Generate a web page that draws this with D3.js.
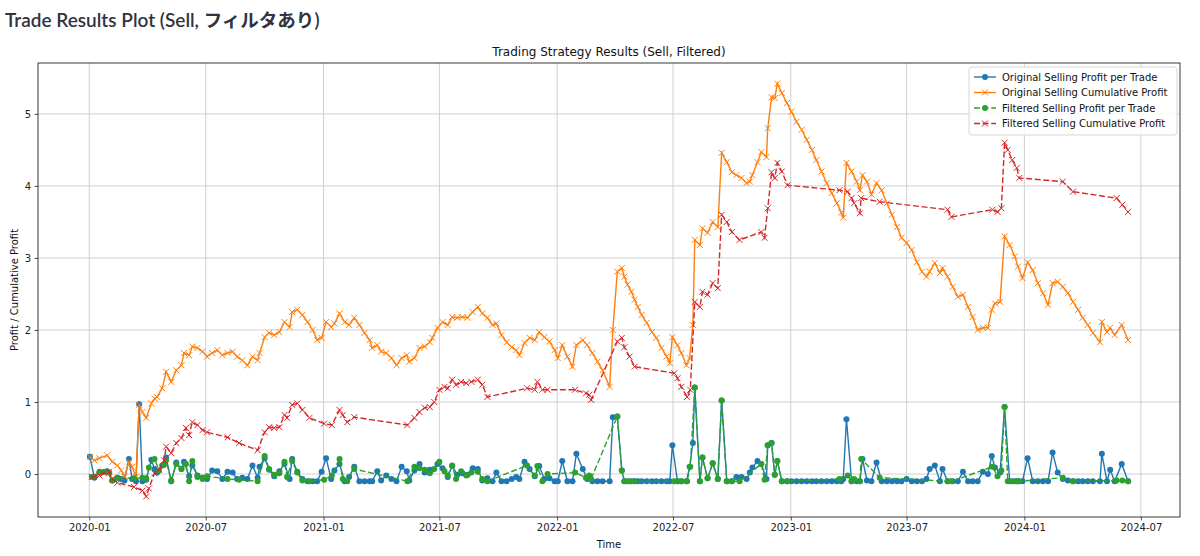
<!DOCTYPE html>
<html>
<head>
<meta charset="utf-8">
<script src="https://cdn.jsdelivr.net/npm/d3@7"></script>
<style>
body{margin:0;background:#fff;}
svg text{font-family:"DejaVu Sans",sans-serif;}
</style>
</head>
<body>
<svg id="chart"></svg>
<script>
// original trades (per-trade profit and running total, one row per trade)
var origDates = [
  "2020-01-02","2020-01-09","2020-01-17","2020-01-29","2020-02-06","2020-02-14","2020-02-20","2020-02-25","2020-03-03","2020-03-08",
  "2020-03-14","2020-03-19","2020-03-24","2020-03-30","2020-04-07","2020-04-12","2020-04-16","2020-04-24","2020-04-30","2020-05-08",
  "2020-05-16","2020-05-24","2020-05-28","2020-06-05","2020-06-10","2020-06-18","2020-06-26","2020-07-03","2020-07-11","2020-07-19",
  "2020-07-27","2020-08-04","2020-08-12","2020-08-19","2020-08-27","2020-09-04","2020-09-12","2020-09-20","2020-09-23","2020-10-01",
  "2020-10-08","2020-10-16","2020-10-24","2020-11-01","2020-11-09","2020-11-13","2020-11-21","2020-11-29","2020-12-07","2020-12-15",
  "2020-12-22","2020-12-29","2021-01-05","2021-01-13","2021-01-18","2021-01-26","2021-02-03","2021-02-10","2021-02-18","2021-02-26",
  "2021-03-06","2021-03-14","2021-03-18","2021-03-26","2021-04-01","2021-04-09","2021-04-17","2021-04-25","2021-05-03","2021-05-11",
  "2021-05-15","2021-05-23","2021-05-31","2021-06-08","2021-06-16","2021-06-20","2021-06-28","2021-07-06","2021-07-14","2021-07-21",
  "2021-07-29","2021-08-06","2021-08-14","2021-08-22","2021-08-30","2021-09-06","2021-09-14","2021-09-22","2021-09-28","2021-10-06",
  "2021-10-14","2021-10-22","2021-10-29","2021-11-03","2021-11-11","2021-11-19","2021-11-27","2021-12-04","2021-12-12","2021-12-20",
  "2021-12-28","2022-01-02","2022-01-09","2022-01-17","2022-01-25","2022-01-31","2022-02-10","2022-02-17","2022-02-25","2022-03-05",
  "2022-03-13","2022-03-24","2022-03-29","2022-04-05","2022-04-12","2022-04-16","2022-04-21","2022-04-27","2022-05-02","2022-05-07",
  "2022-05-13","2022-05-21","2022-05-29","2022-06-05","2022-06-13","2022-06-21","2022-06-26","2022-06-30","2022-07-08","2022-07-14",
  "2022-07-22","2022-07-27","2022-08-01","2022-08-04","2022-08-12","2022-08-16","2022-08-24","2022-09-01","2022-09-09","2022-09-15",
  "2022-09-23","2022-10-01","2022-10-08","2022-10-16","2022-10-24","2022-10-29","2022-11-02","2022-11-10","2022-11-16","2022-11-24",
  "2022-11-26","2022-12-02","2022-12-07","2022-12-11","2022-12-18","2022-12-26","2023-01-02","2023-01-10","2023-01-18","2023-01-26",
  "2023-02-03","2023-02-10","2023-02-18","2023-02-26","2023-03-06","2023-03-14","2023-03-21","2023-03-24","2023-03-29","2023-04-06",
  "2023-04-14","2023-04-19","2023-04-23","2023-04-30","2023-05-07","2023-05-15","2023-05-23","2023-05-31","2023-06-08","2023-06-16",
  "2023-06-23","2023-07-01","2023-07-09","2023-07-17","2023-07-25","2023-08-01","2023-08-06","2023-08-14","2023-08-22","2023-08-26",
  "2023-09-03","2023-09-11","2023-09-19","2023-09-27","2023-10-05","2023-10-12","2023-10-20","2023-10-28","2023-11-05","2023-11-11",
  "2023-11-16","2023-11-24","2023-12-01","2023-12-09","2023-12-17","2023-12-22","2023-12-29","2024-01-06","2024-01-14","2024-01-22",
  "2024-01-30","2024-02-07","2024-02-14","2024-02-22","2024-03-01","2024-03-09","2024-03-17","2024-03-25","2024-04-01","2024-04-09",
  "2024-04-17","2024-04-28","2024-05-01","2024-05-09","2024-05-14","2024-05-21","2024-06-01","2024-06-11"
];
var origProfit = [
  0.24,-0.05,0.03,0.04,-0.09,-0.05,-0.07,-0.09,0.21,-0.07,
  -0.10,0.97,-0.10,-0.08,0.20,0.07,0.02,0.12,0.23,-0.10,
  0.16,0.07,0.17,-0.03,0.12,-0.02,-0.05,-0.07,0.05,0.04,
  -0.07,0.03,0.02,-0.07,-0.05,-0.07,0.12,-0.05,0.10,0.22,
  0.06,-0.03,0.04,0.14,-0.07,0.21,0.03,-0.07,-0.10,-0.10,
  -0.10,0.03,0.22,-0.07,0.05,0.14,-0.10,-0.04,0.10,-0.10,
  -0.10,-0.10,-0.10,0.04,-0.09,-0.02,-0.07,-0.10,0.10,0.04,
  -0.09,0.05,0.14,0.02,0.06,0.06,0.14,0.08,-0.04,0.11,
  -0.01,0.01,-0.01,0.08,0.07,-0.09,-0.06,-0.10,0.02,-0.10,
  -0.10,-0.07,-0.04,-0.07,0.17,0.07,-0.03,0.11,-0.07,-0.06,
  -0.10,-0.10,0.18,-0.10,-0.10,0.28,0.07,-0.07,-0.10,-0.10,
  -0.10,-0.10,0.79,0.80,0.05,-0.10,-0.10,-0.10,-0.10,-0.10,
  -0.10,-0.10,-0.10,-0.10,-0.10,-0.10,-0.10,0.40,-0.10,-0.10,
  -0.10,0.10,0.43,1.20,-0.10,0.23,-0.06,0.15,-0.07,1.02,
  -0.10,-0.10,-0.04,-0.04,-0.07,0.02,0.09,0.18,0.14,-0.07,
  0.40,0.43,-0.01,0.18,-0.10,-0.10,-0.10,-0.10,-0.10,-0.10,
  -0.10,-0.10,-0.10,-0.10,-0.10,-0.10,-0.10,-0.07,0.76,-0.10,
  -0.10,-0.10,0.21,-0.09,-0.10,0.16,-0.10,-0.10,-0.10,-0.10,
  -0.10,-0.07,-0.10,-0.10,-0.10,-0.07,0.07,0.12,-0.10,0.07,
  -0.10,-0.10,-0.10,0.03,-0.10,-0.10,-0.10,0.03,0.00,0.25,
  0.09,0.02,0.93,-0.10,-0.10,-0.10,-0.10,0.22,-0.10,-0.10,
  -0.10,-0.10,0.30,0.02,-0.07,-0.09,-0.10,-0.10,-0.10,-0.10,
  -0.10,-0.10,0.28,-0.10,0.06,-0.10,0.14,-0.10
];
var origCum = [
  0.24,0.19,0.22,0.26,0.17,0.12,0.05,-0.04,0.17,0.10,
  -0.04,0.96,0.86,0.78,0.98,1.05,1.07,1.19,1.42,1.28,
  1.44,1.51,1.68,1.65,1.77,1.75,1.70,1.63,1.68,1.72,
  1.65,1.68,1.70,1.63,1.58,1.51,1.63,1.58,1.68,1.90,
  1.96,1.93,1.97,2.11,2.04,2.25,2.28,2.21,2.11,2.00,
  1.86,1.89,2.11,2.04,2.09,2.23,2.11,2.07,2.17,2.07,
  1.96,1.86,1.75,1.79,1.70,1.68,1.61,1.51,1.61,1.65,
  1.56,1.61,1.75,1.77,1.83,1.89,2.03,2.11,2.07,2.18,
  2.17,2.18,2.17,2.25,2.32,2.23,2.17,2.07,2.09,1.93,
  1.83,1.76,1.72,1.65,1.82,1.89,1.86,1.97,1.90,1.84,
  1.72,1.61,1.79,1.63,1.49,1.79,1.86,1.79,1.68,1.56,
  1.44,1.21,2.00,2.81,2.86,2.74,2.63,2.53,2.42,2.32,
  2.21,2.10,1.97,1.89,1.75,1.63,1.54,1.90,1.79,1.68,
  1.51,1.61,2.07,3.25,3.18,3.41,3.35,3.50,3.43,4.46,
  4.33,4.19,4.15,4.11,4.04,4.06,4.15,4.33,4.47,4.40,
  4.80,5.23,5.22,5.42,5.29,5.15,5.03,4.89,4.78,4.64,
  4.50,4.36,4.20,4.04,3.90,3.76,3.63,3.56,4.32,4.20,
  4.06,3.94,4.15,4.06,3.88,4.04,3.94,3.76,3.60,3.43,
  3.28,3.21,3.11,2.94,2.81,2.74,2.81,2.93,2.79,2.86,
  2.74,2.60,2.46,2.49,2.32,2.18,2.00,2.03,2.03,2.28,
  2.37,2.39,3.30,3.18,3.02,2.88,2.72,2.94,2.83,2.65,
  2.51,2.35,2.65,2.67,2.60,2.51,2.39,2.28,2.17,2.07,
  1.96,1.83,2.11,1.97,2.03,1.93,2.07,1.86
];

// filtered trades
var filtDates = [
  "2020-01-05","2020-01-17","2020-01-24","2020-02-01","2020-02-06","2020-02-14","2020-03-11","2020-03-24","2020-03-30","2020-04-03",
  "2020-04-12","2020-04-19","2020-04-27","2020-04-30","2020-05-08","2020-05-16","2020-05-24","2020-05-31","2020-06-05","2020-06-10",
  "2020-06-18","2020-06-26","2020-07-03","2020-08-04","2020-08-22","2020-09-20","2020-10-01","2020-10-08","2020-10-16","2020-10-24",
  "2020-11-01","2020-11-05","2020-11-13","2020-11-21","2020-11-29","2020-12-10","2021-01-02","2021-01-14","2021-01-26","2021-01-31",
  "2021-02-07","2021-02-18","2021-05-12","2021-05-23","2021-05-31","2021-06-08","2021-06-16","2021-06-23","2021-07-01","2021-07-09",
  "2021-07-14","2021-07-21","2021-07-27","2021-08-04","2021-08-12","2021-08-20","2021-08-30","2021-09-06","2021-09-14","2021-11-15",
  "2021-11-27","2021-12-01","2021-12-09","2021-12-17","2022-01-29","2022-02-15","2022-02-20","2022-02-23","2022-04-05","2022-04-12",
  "2022-04-16","2022-04-24","2022-05-02","2022-07-03","2022-07-08","2022-07-14","2022-07-23","2022-07-28","2022-08-04","2022-08-12",
  "2022-08-16","2022-08-24","2022-09-01","2022-09-09","2022-09-15","2022-09-23","2022-10-01","2022-10-13","2022-11-16","2022-11-21",
  "2022-11-26","2022-12-02","2022-12-07","2022-12-11","2022-12-18","2022-12-27","2023-03-18","2023-03-31","2023-04-06","2023-04-10",
  "2023-04-19","2023-04-21","2023-05-20","2023-09-03","2023-09-09","2023-11-12","2023-11-20","2023-11-26","2023-12-01","2023-12-06",
  "2023-12-13","2023-12-20","2023-12-24","2024-03-01","2024-03-17","2024-05-24","2024-06-02","2024-06-11"
];
var filtProfit = [
  -0.04,0.02,0.03,0.02,-0.09,-0.05,-0.06,-0.05,-0.06,0.09,
  0.21,0.05,0.13,0.19,-0.09,0.14,0.07,0.14,-0.10,0.18,
  -0.04,-0.07,-0.03,-0.07,-0.08,-0.10,0.25,0.07,-0.01,0.01,
  0.17,-0.04,0.18,0.02,-0.09,-0.10,-0.08,-0.02,0.21,-0.07,
  -0.10,0.07,-0.10,0.10,0.08,0.06,0.01,0.07,0.17,0.04,
  -0.02,0.12,-0.07,0.04,-0.02,0.02,0.03,-0.07,-0.10,0.12,
  -0.02,0.11,-0.10,0.00,0.02,-0.05,-0.02,-0.07,0.80,0.05,
  -0.10,-0.10,-0.10,-0.10,-0.10,-0.10,-0.10,0.10,1.20,-0.10,
  0.23,-0.06,0.15,-0.07,1.02,-0.10,-0.10,-0.10,0.14,-0.08,
  0.40,0.43,-0.01,0.18,-0.10,-0.10,-0.07,-0.02,-0.10,-0.07,
  -0.10,0.21,-0.05,-0.10,-0.10,0.10,-0.03,0.05,0.93,-0.10,
  -0.10,-0.10,-0.10,-0.05,-0.10,-0.09,-0.09,-0.10
];
var filtCum = [
  -0.04,-0.02,0.01,0.03,-0.07,-0.12,-0.18,-0.23,-0.31,-0.20,
  0.01,0.06,0.19,0.38,0.29,0.43,0.50,0.64,0.54,0.72,
  0.68,0.61,0.58,0.51,0.43,0.33,0.58,0.65,0.64,0.65,
  0.82,0.78,0.96,0.98,0.89,0.78,0.70,0.68,0.89,0.82,
  0.72,0.79,0.68,0.78,0.86,0.92,0.93,1.00,1.17,1.21,
  1.19,1.31,1.24,1.28,1.26,1.28,1.31,1.24,1.07,1.19,
  1.17,1.28,1.17,1.17,1.17,1.12,1.10,1.03,1.84,1.89,
  1.76,1.63,1.49,1.40,1.33,1.21,1.07,1.17,2.39,2.32,
  2.53,2.49,2.65,2.58,3.60,3.50,3.36,3.25,3.36,3.28,
  3.69,4.19,4.11,4.32,4.20,4.01,3.94,3.92,3.83,3.76,
  3.62,3.83,3.78,3.67,3.57,3.67,3.64,3.69,4.60,4.50,
  4.36,4.25,4.11,4.06,3.92,3.83,3.74,3.64
];

var seriesNames = [
  "Original Selling Profit per Trade",
  "Original Selling Cumulative Profit",
  "Filtered Selling Profit per Trade",
  "Filtered Selling Cumulative Profit"
];
var yTickValues = [0, 1, 2, 3, 4, 5];

var W = 1200, H = 556;
var plot = {left: 38, right: 1180, top: 63, bottom: 517};
var parseDate = d3.utcParse("%Y-%m-%d");

function zipSeries(dates, values){
  return dates.map(function(d, i){ return {date: parseDate(d), value: values[i]}; });
}

var series = [
  {name: seriesNames[0], data: zipSeries(origDates, origProfit), color: "#1f77b4", marker: "o", dash: null},
  {name: seriesNames[1], data: zipSeries(origDates, origCum), color: "#ff7f0e", marker: "x", dash: null},
  {name: seriesNames[2], data: zipSeries(filtDates, filtProfit), color: "#2ca02c", marker: "o", dash: "6,2.6"},
  {name: seriesNames[3], data: zipSeries(filtDates, filtCum), color: "#d62728", marker: "x", dash: "6,2.6"}
];

var svg = d3.select("#chart").attr("width", W).attr("height", H);

// page header (streamlit-like)
var header = svg.append("text")
  .attr("x", 5).attr("y", 27)
  .style("fill", "#31333F")
  .style("font-weight", "600");
header.append("tspan").style("font-family", "Lato, 'Noto Sans', sans-serif").style("font-size", "19px")
  .text("Trade Results Plot (Sell, ");
header.append("tspan").style("font-family", "'Noto Sans CJK JP', sans-serif").style("font-size", "18.5px")
  .text("フィルタあり");
header.append("tspan").style("font-family", "Lato, 'Noto Sans', sans-serif").style("font-size", "19px")
  .text(")");

// scales with matplotlib-like 5% margins
var allDates = series[0].data.concat(series[2].data).map(function(d){ return d.date; });
var allVals = origProfit.concat(origCum, filtProfit, filtCum);
var xExt = d3.extent(allDates), xPad = (xExt[1] - xExt[0]) * 0.05;
var yExt = d3.extent(allVals), yPad = (yExt[1] - yExt[0]) * 0.05;

var x = d3.scaleUtc()
  .domain([new Date(+xExt[0] - xPad), new Date(+xExt[1] + xPad)])
  .range([plot.left, plot.right]);
var y = d3.scaleLinear()
  .domain([yExt[0] - yPad, yExt[1] + yPad])
  .range([plot.bottom, plot.top]);

var xTicks = x.ticks(d3.utcMonth.every(6));

// grid
var grid = svg.append("g").attr("class", "grid");
grid.selectAll("line.gx").data(xTicks).enter().append("line")
  .attr("x1", function(d){ return x(d); }).attr("x2", function(d){ return x(d); })
  .attr("y1", plot.top).attr("y2", plot.bottom)
  .attr("stroke", "#d0d0d0").attr("stroke-width", 1);
grid.selectAll("line.gy").data(yTickValues).enter().append("line")
  .attr("x1", plot.left).attr("x2", plot.right)
  .attr("y1", function(d){ return y(d); }).attr("y2", function(d){ return y(d); })
  .attr("stroke", "#d0d0d0").attr("stroke-width", 1);

// series
var clip = svg.append("clipPath").attr("id", "plotclip").append("rect")
  .attr("x", plot.left).attr("y", plot.top)
  .attr("width", plot.right - plot.left).attr("height", plot.bottom - plot.top);

var lineGen = d3.line().x(function(d){ return x(d.date); }).y(function(d){ return y(d.value); });
var xPath = "M-3,-3L3,3M-3,3L3,-3";

var plotG = svg.append("g").attr("clip-path", "url(#plotclip)");
series.forEach(function(s){
  var g = plotG.append("g");
  g.append("path").datum(s.data)
    .attr("d", lineGen)
    .attr("fill", "none")
    .attr("stroke", s.color)
    .attr("stroke-width", 1.4)
    .attr("stroke-dasharray", s.dash);
  if (s.marker === "o") {
    g.selectAll("circle").data(s.data).enter().append("circle")
      .attr("cx", function(d){ return x(d.date); })
      .attr("cy", function(d){ return y(d.value); })
      .attr("r", 3).attr("fill", s.color);
  } else {
    g.selectAll("path.mk").data(s.data).enter().append("path")
      .attr("class", "mk")
      .attr("d", xPath)
      .attr("transform", function(d){ return "translate(" + x(d.date) + "," + y(d.value) + ")"; })
      .attr("stroke", s.color).attr("stroke-width", 1).attr("fill", "none");
  }
});

// axes
var xAxis = svg.append("g")
  .attr("transform", "translate(0," + plot.bottom + ")")
  .call(d3.axisBottom(x).tickValues(xTicks).tickFormat(d3.utcFormat("%Y-%m")).tickSize(3.5).tickPadding(3.5).tickSizeOuter(0));
var yAxis = svg.append("g")
  .attr("transform", "translate(" + plot.left + ",0)")
  .call(d3.axisLeft(y).tickValues(yTickValues).tickFormat(d3.format("d")).tickSize(3.5).tickPadding(3.5).tickSizeOuter(0));
[xAxis, yAxis].forEach(function(a){
  a.select(".domain").remove();
  a.selectAll("text").style("font-family", "'DejaVu Sans', sans-serif").style("font-size", "10px").attr("fill", "#222");
  a.selectAll("line").attr("stroke", "#222").attr("stroke-width", 0.8);
});

// frame
svg.append("rect")
  .attr("x", plot.left).attr("y", plot.top)
  .attr("width", plot.right - plot.left).attr("height", plot.bottom - plot.top)
  .attr("fill", "none").attr("stroke", "#222").attr("stroke-width", 0.9);

// labels
svg.append("text")
  .attr("x", (plot.left + plot.right) / 2).attr("y", 56)
  .attr("text-anchor", "middle").style("font-size", "12px").attr("fill", "#111")
  .text("Trading Strategy Results (Sell, Filtered)");
svg.append("text")
  .attr("x", (plot.left + plot.right) / 2).attr("y", 548)
  .attr("text-anchor", "middle").style("font-size", "10px").attr("fill", "#111")
  .text("Time");
svg.append("text")
  .attr("transform", "translate(18," + ((plot.top + plot.bottom) / 2) + ") rotate(-90)")
  .attr("text-anchor", "middle").style("font-size", "10px").attr("fill", "#111")
  .text("Profit / Cumulative Profit");

// legend
var legend = svg.append("g").attr("transform", "translate(969,67)");
legend.append("rect")
  .attr("width", 208).attr("height", 68).attr("rx", 3)
  .attr("fill", "#fff").attr("fill-opacity", 0.85)
  .attr("stroke", "#d6d6d6").attr("stroke-width", 1);
series.forEach(function(s, i){
  var row = legend.append("g").attr("transform", "translate(0," + (10 + i * 15.5) + ")");
  row.append("line").attr("x1", 5).attr("x2", 27).attr("y1", 0).attr("y2", 0)
    .attr("stroke", s.color).attr("stroke-width", 1.4).attr("stroke-dasharray", s.dash);
  if (s.marker === "o") {
    row.append("circle").attr("cx", 16).attr("cy", 0).attr("r", 3).attr("fill", s.color);
  } else {
    row.append("path").attr("d", xPath).attr("transform", "translate(16,0)")
      .attr("stroke", s.color).attr("stroke-width", 1).attr("fill", "none");
  }
  row.append("text").attr("x", 33).attr("y", 3.6)
    .style("font-size", "10px").attr("fill", "#111").text(s.name);
});
</script>
</body>
</html>
